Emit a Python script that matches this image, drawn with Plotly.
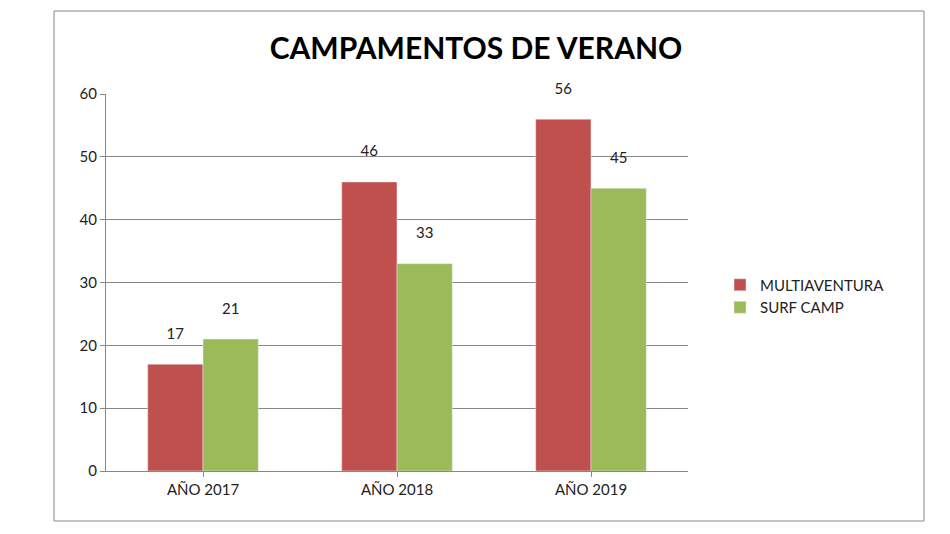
import plotly.graph_objects as go

categories = ["AÑO 2017", "AÑO 2018", "AÑO 2019"]
multiaventura = [17, 46, 56]
surf_camp = [21, 33, 45]

fig = go.Figure()
fig.add_bar(name="MULTIAVENTURA", x=categories, y=multiaventura, marker_color="#C0504D",
            text=multiaventura, texttemplate="%{y}<br> ", textposition="outside",
            textfont=dict(size=15, color="#222"), cliponaxis=False)
fig.add_bar(name="SURF CAMP", x=categories, y=surf_camp, marker_color="#9BBB59",
            text=surf_camp, texttemplate="%{y}<br> ", textposition="outside",
            textfont=dict(size=15, color="#222"), cliponaxis=False)

fig.update_layout(
    width=950, height=534, barmode="group", bargap=0.43, bargroupgap=0,
    paper_bgcolor="white", plot_bgcolor="white",
    margin=dict(l=98, r=270, t=86, b=71),
    font=dict(family="Lato, Liberation Sans, sans-serif", size=15, color="#222"),
    title=dict(text="<b>CAMPAMENTOS DE VERANO</b>", x=468/950, xanchor="center",
               y=1-40/534, yanchor="middle", font=dict(size=30, color="black")),
    legend=dict(x=1.055, y=0.464, xanchor="left", yanchor="middle", font=dict(size=15),
                tracegroupgap=14, itemwidth=30),
    xaxis=dict(showline=True, linecolor="#888", ticks="outside", tickcolor="#888",
               ticklen=5, tickfont=dict(size=15)),
    yaxis=dict(range=[0, 60], dtick=10, showgrid=True, gridcolor="#888", showline=True,
               linecolor="#888", ticks="outside", tickcolor="#888", ticklen=5,
               tickfont=dict(size=15), zeroline=False),
    shapes=[dict(type="rect", xref="paper", yref="paper",
                 x0=(52-104)/582, x1=(922-104)/582, y0=(470-520)/377, y1=(470-10)/377,
                 line=dict(color="#888", width=1))],
)
fig.write_html("out.html")
